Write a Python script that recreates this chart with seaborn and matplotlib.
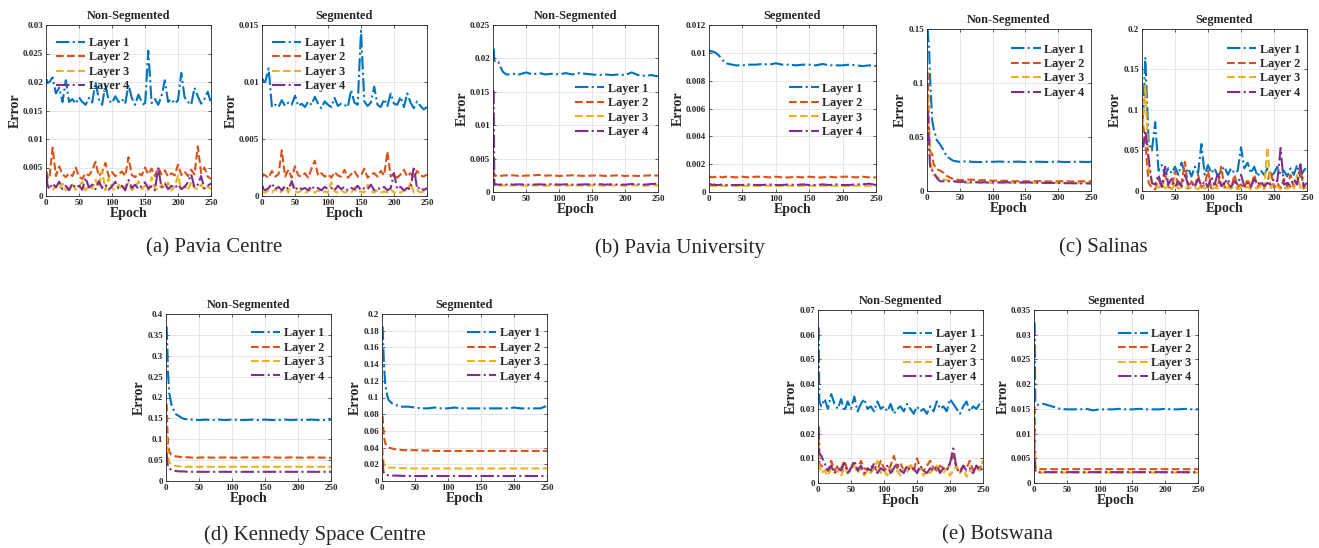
import matplotlib
matplotlib.use('Agg')
import matplotlib.pyplot as plt
from matplotlib.ticker import MultipleLocator, FuncFormatter
import numpy as np
import seaborn as sns

# epoch grids (noisy panels sampled every 5 epochs, smooth panels denser at start)
ep_n = [1, 2] + list(range(5, 251, 5))
ep_s = [1, 2, 3, 5, 8, 10, 15, 20, 25, 30] + list(range(40, 251, 10))

layers = ["Layer 1", "Layer 2", "Layer 3", "Layer 4"]
colors = ["#0072BD", "#D95319", "#EDB120", "#7E2F8E"]
styles = ["-.", "--", "--", "-."]

# (a) Pavia Centre, values x1e-3
pc_ns_l1 = [20.5, 19.8, 20.0, 20.8, 18.0, 19.0, 16.5, 20.3, 16.5, 17.0, 16.2, 17.3,
            16.5, 16.0, 17.2, 16.4, 20.0, 17.0, 16.0, 19.5, 16.8, 16.3,
            17.5, 16.5, 17.0, 16.2, 19.5, 17.2, 16.0, 17.8, 16.5, 15.8,
            25.5, 16.3, 17.0, 16.0, 17.5, 20.3, 16.5, 17.0, 16.2, 16.8,
            21.6, 17.3, 16.5, 16.0, 19.0, 17.5, 16.2, 17.0, 18.3, 16.3]
pc_ns_l2 = [4.3, 3.2, 3.0, 8.5, 3.5, 5.2, 3.8, 3.3, 4.0, 3.5, 5.0, 3.4,
            3.0, 4.0, 3.6, 4.5, 6.0, 3.5, 4.2, 5.8, 3.4, 4.2,
            3.5, 3.8, 4.3, 3.5, 6.8, 3.7, 3.3, 4.0, 3.6, 5.0,
            3.8, 4.8, 3.5, 5.0, 3.8, 4.5, 3.4, 4.0, 3.6, 5.5,
            3.7, 4.3, 3.5, 4.6, 3.8, 8.7, 4.0, 5.0, 3.4, 3.0]
pc_ns_l3 = [2.5, 1.8, 1.5, 1.0, 1.8, 1.2, 2.2, 1.0, 1.5, 2.0, 1.1, 1.6,
            2.5, 1.0, 1.8, 1.3, 2.8, 1.5, 4.5, 1.0, 3.2, 1.4,
            1.0, 2.0, 1.2, 1.7, 2.3, 1.0, 1.5, 2.6, 1.2, 1.8,
            1.0, 3.3, 1.4, 1.1, 2.0, 1.3, 2.4, 1.0, 1.6, 3.6,
            1.2, 1.8, 1.0, 2.5, 1.4, 1.2, 2.0, 1.1, 1.6, 1.2]
pc_ns_l4 = [3.6, 2.0, 1.2, 2.2, 1.5, 2.5, 1.2, 1.8, 1.0, 2.2, 1.4, 1.8,
            1.1, 3.2, 1.5, 2.0, 1.2, 2.6, 1.4, 2.0, 1.1, 1.7,
            2.5, 1.3, 1.8, 1.0, 2.8, 1.4, 2.0, 1.2, 1.8, 2.4,
            1.3, 1.7, 1.0, 5.0, 1.5, 2.2, 1.2, 1.8, 1.4, 2.0,
            1.2, 1.6, 2.4, 3.8, 1.5, 2.0, 3.5, 1.3, 1.8, 2.2]
pc_s_l1 = [10.3, 10.1, 10.0, 11.2, 7.8, 8.0, 7.8, 8.4, 7.9, 8.2, 8.0, 8.8,
           7.9, 8.1, 7.8, 8.3, 8.0, 8.7, 8.1, 7.7, 8.3, 8.0,
           7.8, 8.6, 7.9, 8.1, 8.0, 7.8, 9.3, 8.2, 8.0, 14.5,
           8.3, 7.9, 8.2, 9.6, 8.0, 7.8, 8.5, 7.9, 9.0, 8.1,
           8.0, 8.7, 7.8, 9.0, 8.2, 7.7, 8.3, 7.9, 7.6, 7.8]
pc_s_l2 = [1.7, 1.9, 1.8, 1.6, 2.2, 1.7, 1.9, 4.0, 1.7, 2.3, 1.6, 2.6,
           1.8, 1.7, 2.0, 1.6, 2.4, 3.1, 1.8, 2.0, 1.7, 1.9,
           1.6, 2.1, 1.8, 1.7, 2.3, 1.6, 1.9, 2.2, 1.7, 1.8,
           2.4, 1.6, 1.9, 2.0, 1.7, 2.2, 1.8, 3.9, 1.7, 2.0,
           1.6, 1.9, 2.3, 1.7, 2.0, 1.6, 2.2, 1.8, 1.7, 1.9]
pc_s_l3 = [0.4, 0.3, 0.3, 0.5, 0.3, 0.6, 0.3, 0.4, 0.8, 0.3, 1.1, 0.4,
           0.3, 0.5, 0.3, 0.4, 0.6, 0.3, 0.5, 0.3, 0.4, 0.3,
           1.2, 0.4, 0.3, 0.5, 0.3, 0.4, 0.3, 0.6, 0.3, 0.4,
           0.3, 1.0, 0.4, 0.3, 0.5, 0.3, 0.4, 0.3, 0.6, 0.3,
           0.4, 0.3, 0.5, 0.4, 1.2, 0.3, 0.5, 0.3, 0.4, 0.5]
pc_s_l4 = [0.9, 0.6, 0.5, 0.7, 1.1, 0.6, 0.8, 0.5, 0.9, 0.6, 1.3, 0.5,
           0.8, 0.6, 0.7, 0.5, 0.9, 0.6, 0.7, 0.5, 0.8, 0.6,
           0.7, 0.5, 0.9, 0.6, 0.8, 0.5, 0.7, 0.6, 0.9, 0.5,
           0.7, 0.6, 1.0, 0.5, 0.7, 0.6, 0.8, 0.5, 0.7, 2.0,
           0.6, 0.8, 0.5, 0.7, 0.6, 2.6, 0.6, 0.8, 0.5, 0.7]

# (b) Pavia University, values x1e-3
pu_ns_l1 = [21.5, 19.8, 19.6, 19.7, 19.5, 19.0, 18.0, 17.6, 17.6, 17.7,
            17.6, 17.9, 17.6, 17.8, 17.6, 17.7, 17.6, 17.8, 17.6, 17.8, 17.7,
            17.6, 17.5, 17.6, 17.5, 17.6, 17.5, 17.9, 17.5, 17.4, 17.5, 17.3]
pu_ns_l2 = [3.2, 2.5, 2.4, 2.45, 2.5, 2.4, 2.45, 2.5, 2.45, 2.5,
            2.4, 2.45, 2.5, 2.55, 2.45, 2.5, 2.4, 2.45, 2.5, 2.45, 2.4,
            2.45, 2.5, 2.4, 2.45, 2.5, 2.4, 2.45, 2.4, 2.45, 2.5, 2.45]
pu_ns_l3 = [2.0, 1.0, 0.95, 1.0, 1.0, 0.95, 1.0, 1.0, 0.95, 1.0,
            1.0, 0.95, 1.0, 1.0, 0.95, 1.0, 1.0, 0.95, 1.0, 1.0, 0.95,
            1.0, 1.0, 0.95, 1.0, 1.0, 0.95, 1.0, 1.0, 0.95, 1.0, 1.0]
pu_ns_l4 = [15.2, 1.2, 1.1, 1.15, 1.1, 1.1, 1.15, 1.1, 1.2, 1.1,
            1.15, 1.1, 1.1, 1.15, 1.1, 1.2, 1.1, 1.15, 1.1, 1.1, 1.15,
            1.1, 1.2, 1.1, 1.15, 1.1, 1.1, 1.2, 1.15, 1.1, 1.2, 1.25]
pu_s_l1 = [10.1, 10.15, 10.1, 10.1, 10.05, 10.0, 9.8, 9.5, 9.25, 9.2,
           9.1, 9.1, 9.15, 9.15, 9.2, 9.15, 9.25, 9.15, 9.15, 9.1, 9.15,
           9.15, 9.1, 9.2, 9.1, 9.1, 9.1, 9.15, 9.1, 9.05, 9.1, 9.05]
pu_s_l2 = [1.1, 1.05, 1.1, 1.05, 1.1, 1.05, 1.1, 1.05, 1.1, 1.1,
           1.05, 1.1, 1.05, 1.1, 1.1, 1.05, 1.1, 1.05, 1.05, 1.1, 1.05,
           1.1, 1.05, 1.05, 1.1, 1.05, 1.1, 1.1, 1.05, 1.1, 1.05, 1.05]
pu_s_l3 = [0.5, 0.45, 0.45, 0.45, 0.45, 0.45, 0.45, 0.45, 0.45, 0.45,
           0.45, 0.45, 0.45, 0.45, 0.45, 0.45, 0.45, 0.45, 0.45, 0.45, 0.45,
           0.45, 0.45, 0.45, 0.45, 0.45, 0.45, 0.45, 0.45, 0.45, 0.45, 0.45]
pu_s_l4 = [0.6, 0.55, 0.55, 0.5, 0.55, 0.5, 0.5, 0.55, 0.5, 0.5,
           0.5, 0.5, 0.55, 0.5, 0.5, 0.55, 0.5, 0.5, 0.55, 0.5, 0.55,
           0.5, 0.5, 0.55, 0.5, 0.55, 0.5, 0.5, 0.55, 0.55, 0.6, 0.5]

# (c) Salinas, values x1e-3
sa_ns_l1 = [150, 140, 135, 100, 65, 58, 47, 43, 38, 32,
            28, 27, 27.5, 27, 26.8, 27.2, 27, 27.3, 26.9, 27, 27.2,
            26.8, 27, 27.1, 26.9, 27, 27.2, 26.8, 27, 27.1, 26.9, 27]
sa_ns_l2 = [110, 90, 60, 36, 34, 25, 20, 19, 17, 14,
            11, 10, 10.5, 10.5, 10, 10, 9.5, 9.5, 9.5, 9, 9,
            9, 9, 9.2, 9, 8.8, 9, 9, 8.8, 9, 9, 9]
sa_ns_l3 = [87, 70, 50, 30, 18, 15, 13, 12, 11, 10,
            9, 8, 7.5, 7.5, 7.8, 7.5, 7.5, 7.6, 7.5, 7.5, 7.4,
            7.5, 7.6, 7.5, 7.5, 7.4, 7.5, 7.5, 7.6, 7.5, 7.5, 7.5]
sa_ns_l4 = [75, 60, 40, 20, 19, 18, 12, 9, 9, 9,
            9, 8.5, 8.5, 8.5, 8, 8, 8, 8, 8, 8, 8,
            8, 7.8, 7.8, 7.5, 7.5, 7.5, 7.2, 7.2, 7, 7, 7]
sa_s_l1 = [90, 100, 165, 60, 50, 85, 25, 32, 20, 28, 22, 30,
           20, 35, 22, 28, 18, 30, 22, 58, 20, 32,
           22, 28, 18, 25, 30, 20, 28, 22, 25, 54,
           28, 35, 22, 30, 18, 25, 20, 28, 18, 22,
           30, 20, 25, 18, 28, 20, 32, 18, 25, 30]
sa_s_l2 = [95, 80, 60, 10, 4, 2, 15, 4, 20, 5, 3, 25,
           5, 10, 36, 3, 12, 5, 20, 4, 8, 25,
           3, 10, 5, 30, 4, 10, 3, 20, 5, 8,
           3, 15, 4, 20, 5, 10, 3, 12, 25, 4,
           10, 3, 15, 5, 20, 4, 8, 28, 3, 10]
sa_s_l3 = [80, 90, 130, 30, 10, 5, 4, 10, 3, 6, 2, 8,
           3, 5, 2, 6, 3, 4, 2, 7, 3, 5,
           2, 4, 3, 10, 2, 4, 3, 6, 2, 4,
           3, 5, 2, 4, 3, 6, 2, 54, 4, 3,
           6, 2, 4, 3, 5, 2, 20, 4, 3, 5]
sa_s_l4 = [60, 55, 75, 40, 10, 8, 20, 5, 30, 8, 15, 5,
           12, 6, 20, 8, 10, 5, 15, 7, 12, 5,
           18, 8, 22, 6, 10, 15, 5, 12, 8, 20,
           6, 10, 5, 15, 8, 12, 6, 10, 8, 15,
           12, 53, 8, 10, 6, 15, 8, 33, 6, 10]

# (d) Kennedy Space Centre, values x1e-3
ks_ns_l1 = [370, 320, 260, 210, 185, 175, 160, 155, 150, 148,
            147, 146, 147, 146, 147, 146, 147, 146, 146, 147, 146,
            147, 146, 146, 147, 146, 147, 146, 147, 146, 146, 147]
ks_ns_l2 = [185, 130, 90, 70, 63, 61, 59, 58, 57, 57,
            56, 56, 56.5, 56, 56, 56.5, 56, 56, 56.5, 56, 56,
            57, 56.5, 56, 56, 56.5, 56, 56, 56.5, 56, 56, 55.5]
ks_ns_l3 = [110, 80, 60, 45, 40, 38, 36, 35, 35, 34,
            34, 34, 34, 34, 34, 34, 34, 34, 34, 34, 34,
            34, 34, 34, 34, 34, 34, 34, 34, 34, 34, 34]
ks_ns_l4 = [68, 45, 35, 30, 27, 25, 24, 23, 23, 22.5,
            22, 22, 22, 22, 22, 22, 22, 22, 22, 22, 22,
            22, 22, 22, 22, 22, 22, 22, 22, 22, 22, 22]
ks_s_l1 = [185, 160, 140, 115, 102, 97, 93, 91, 90, 89,
           89, 88, 87, 87, 88, 87, 87, 88, 87, 87, 87,
           87, 87, 87, 87, 87, 88, 87, 87, 87, 87, 90]
ks_s_l2 = [78, 62, 53, 45, 42, 40, 39, 38, 38, 37,
           37, 37, 36.5, 36.5, 36, 36, 36, 36, 36, 36, 36,
           36, 36, 36, 36, 36, 36, 36, 36, 36, 36, 36]
ks_s_l3 = [40, 25, 20, 18, 17, 16, 16, 16, 15.5, 15.5,
           15, 15, 15, 15, 15, 15, 15, 15, 15, 15, 15,
           15, 15, 15, 15, 15, 15, 15, 15, 15, 15, 15]
ks_s_l4 = [25, 12, 9, 8, 7, 7, 6.5, 6.5, 6.3, 6.2,
           6, 6, 6, 6, 6, 6, 6, 6, 6, 6, 6,
           6, 6, 6, 6, 6, 6, 6, 6, 6, 6, 6]

# (e) Botswana, values x1e-3
bo_ns_l1 = [63, 33, 31, 34, 30, 36, 32, 30, 34, 29, 33, 30,
            35, 29, 32, 34, 30, 31, 29, 33, 30, 31,
            29, 32, 28, 30, 31, 29, 32, 30, 28, 31,
            29, 30, 28, 31, 29, 33, 30, 31, 29, 34,
            32, 30, 28, 31, 33, 29, 31, 30, 32, 33]
bo_ns_l2 = [18, 8, 7, 6, 5, 9, 5, 7, 6, 9, 5, 6,
            8, 5, 9, 6, 5, 7, 6, 5, 9, 6,
            5, 7, 11, 6, 8, 5, 6, 7, 5, 10,
            6, 5, 7, 9, 6, 5, 7, 6, 5, 8,
            11, 6, 5, 7, 6, 9, 5, 7, 6, 8]
bo_ns_l3 = [17, 7, 4, 5, 3, 6, 4, 5, 3, 6, 4, 5,
            7, 4, 6, 3, 5, 4, 6, 9, 4, 5,
            3, 6, 4, 5, 3, 6, 4, 8, 5, 4,
            6, 3, 5, 4, 6, 7, 5, 4, 6, 3,
            5, 7, 4, 6, 2.5, 5, 4, 6, 5, 9]
bo_ns_l4 = [23, 12, 11, 8, 5, 7, 4, 6, 5, 8, 4, 6,
            9, 5, 7, 4, 6, 5, 8, 4, 6, 5,
            7, 4, 6, 8, 5, 4, 7, 5, 6, 4,
            7, 5, 4, 6, 5, 7, 4, 6, 5, 8,
            14, 6, 4, 7, 5, 6, 4, 7, 5, 6]
bo_s_l1 = [32.5, 16.5, 16.0, 15.8, 15.9, 15.9, 16.0, 15.8, 15.6, 15.4,
           15.0, 14.9, 14.9, 14.9, 15.0, 14.7, 14.9, 14.9, 14.9, 15.0, 14.9,
           14.9, 15.0, 14.9, 14.9, 14.9, 15.0, 14.9, 14.9, 15.0, 14.9, 14.9]
bo_s_l2 = [15.5, 3.0, 2.8, 2.8, 2.8, 2.8, 2.8, 2.8, 2.8, 2.8,
           2.8, 2.8, 2.8, 2.8, 2.8, 2.8, 2.8, 2.8, 2.8, 2.8, 2.8,
           2.8, 2.8, 2.8, 2.8, 2.8, 2.8, 2.8, 2.8, 2.8, 2.8, 2.8]
bo_s_l3 = [10.5, 2.5, 2.1, 2.1, 2.1, 2.1, 2.1, 2.1, 2.1, 2.1,
           2.1, 2.1, 2.1, 2.1, 2.1, 2.1, 2.1, 2.1, 2.1, 2.1, 2.1,
           2.1, 2.1, 2.1, 2.1, 2.1, 2.1, 2.1, 2.1, 2.1, 2.1, 2.1]
bo_s_l4 = [5.0, 2.5, 2.2, 2.2, 2.2, 2.2, 2.2, 2.2, 2.2, 2.2,
           2.2, 2.2, 2.2, 2.2, 2.2, 2.2, 2.2, 2.2, 2.2, 2.2, 2.2,
           2.2, 2.2, 2.2, 2.2, 2.2, 2.2, 2.2, 2.2, 2.2, 2.2, 2.2]

captions = ["(a) Pavia Centre", "(b) Pavia University", "(c) Salinas",
            "(d) Kennedy Space Centre", "(e) Botswana"]

sns.set_theme(style="ticks")
plt.rcParams['font.family'] = ['Liberation Serif', 'DejaVu Serif']
plt.rcParams['font.weight'] = 'bold'

W, H = 1319, 548
fig = plt.figure(figsize=(W / 100, H / 100), dpi=100)

# (title, pixel box x0,x1,y0,y1, ymax, ystep, epochs, series, legend loc, anchor)
panels = [
    ("Non-Segmented", (46, 211, 25, 196), 0.03, 0.005, ep_n,
     [pc_ns_l1, pc_ns_l2, pc_ns_l3, pc_ns_l4], "upper left", (0.06, 0.93)),
    ("Segmented", (262, 427, 25, 196), 0.015, 0.005, ep_n,
     [pc_s_l1, pc_s_l2, pc_s_l3, pc_s_l4], "upper left", (0.06, 0.93)),
    ("Non-Segmented", (493, 658, 25, 192), 0.025, 0.005, ep_s,
     [pu_ns_l1, pu_ns_l2, pu_ns_l3, pu_ns_l4], "upper right", (0.94, 0.655)),
    ("Segmented", (709, 876, 25, 192), 0.012, 0.002, ep_s,
     [pu_s_l1, pu_s_l2, pu_s_l3, pu_s_l4], "upper right", (0.92, 0.655)),
    ("Non-Segmented", (927, 1091, 29, 191), 0.15, 0.05, ep_s,
     [sa_ns_l1, sa_ns_l2, sa_ns_l3, sa_ns_l4], "upper right", (0.96, 0.91)),
    ("Segmented", (1142, 1307, 29, 191), 0.2, 0.05, ep_n,
     [sa_s_l1, sa_s_l2, sa_s_l3, sa_s_l4], "upper right", (0.96, 0.91)),
    ("Non-Segmented", (166, 331, 314, 481), 0.4, 0.05, ep_s,
     [ks_ns_l1, ks_ns_l2, ks_ns_l3, ks_ns_l4], "upper right", (0.96, 0.92)),
    ("Segmented", (382, 547, 314, 481), 0.2, 0.02, ep_s,
     [ks_s_l1, ks_s_l2, ks_s_l3, ks_s_l4], "upper right", (0.96, 0.92)),
    ("Non-Segmented", (818, 983, 310, 483), 0.07, 0.01, ep_n,
     [bo_ns_l1, bo_ns_l2, bo_ns_l3, bo_ns_l4], "upper right", (0.96, 0.895)),
    ("Segmented", (1034, 1198, 310, 483), 0.035, 0.005, ep_s,
     [bo_s_l1, bo_s_l2, bo_s_l3, bo_s_l4], "upper right", (0.96, 0.895)),
]

fmt = FuncFormatter(lambda v, p: f"{v:g}")

for title, (x0, x1, y0, y1), ymax, ystep, ep, series, loc, anchor in panels:
    ax = fig.add_axes([x0 / W, 1 - y1 / H, (x1 - x0) / W, (y1 - y0) / H])
    for vals, name, c, ls in zip(series, layers, colors, styles):
        sns.lineplot(x=ep, y=np.array(vals) * 1e-3, ax=ax, color=c, linestyle=ls,
                     linewidth=1.5, label=name)
    ax.set_xlim(0, 250)
    ax.set_ylim(0, ymax)
    ax.xaxis.set_major_locator(MultipleLocator(50))
    ax.yaxis.set_major_locator(MultipleLocator(ystep))
    ax.yaxis.set_major_formatter(fmt)
    ax.grid(True, color="#e3e3e3", linewidth=0.6)
    ax.set_axisbelow(True)
    ax.tick_params(direction="in", length=2.5, width=0.5, labelsize=6.5, pad=2,
                   top=True, right=True, colors="#262626")
    for lab in ax.get_xticklabels() + ax.get_yticklabels():
        lab.set_fontweight("bold")
    for sp in ax.spines.values():
        sp.set_linewidth(0.6)
        sp.set_color("#262626")
    ax.set_title(title, fontsize=8.8, fontweight="bold", pad=4)
    ax.set_xlabel("Epoch", fontsize=10, fontweight="bold", labelpad=0)
    ax.set_ylabel("Error", fontsize=10, fontweight="bold", labelpad=1)
    ax.legend(loc=loc, bbox_to_anchor=anchor, frameon=False,
              prop={"size": 8.8, "weight": "bold"}, handlelength=2.4,
              handletextpad=0.3, labelspacing=0.2, borderpad=0, borderaxespad=0)

cap_pos = [(214, 248), (680, 248), (1103, 248), (315, 535), (997, 535)]
for text, (cx, cy) in zip(captions, cap_pos):
    fig.text(cx / W, 1 - cy / H, text, ha="center", va="center",
             fontsize=15, fontweight="normal", family="Liberation Serif")

fig.savefig("out.png", dpi=100)
